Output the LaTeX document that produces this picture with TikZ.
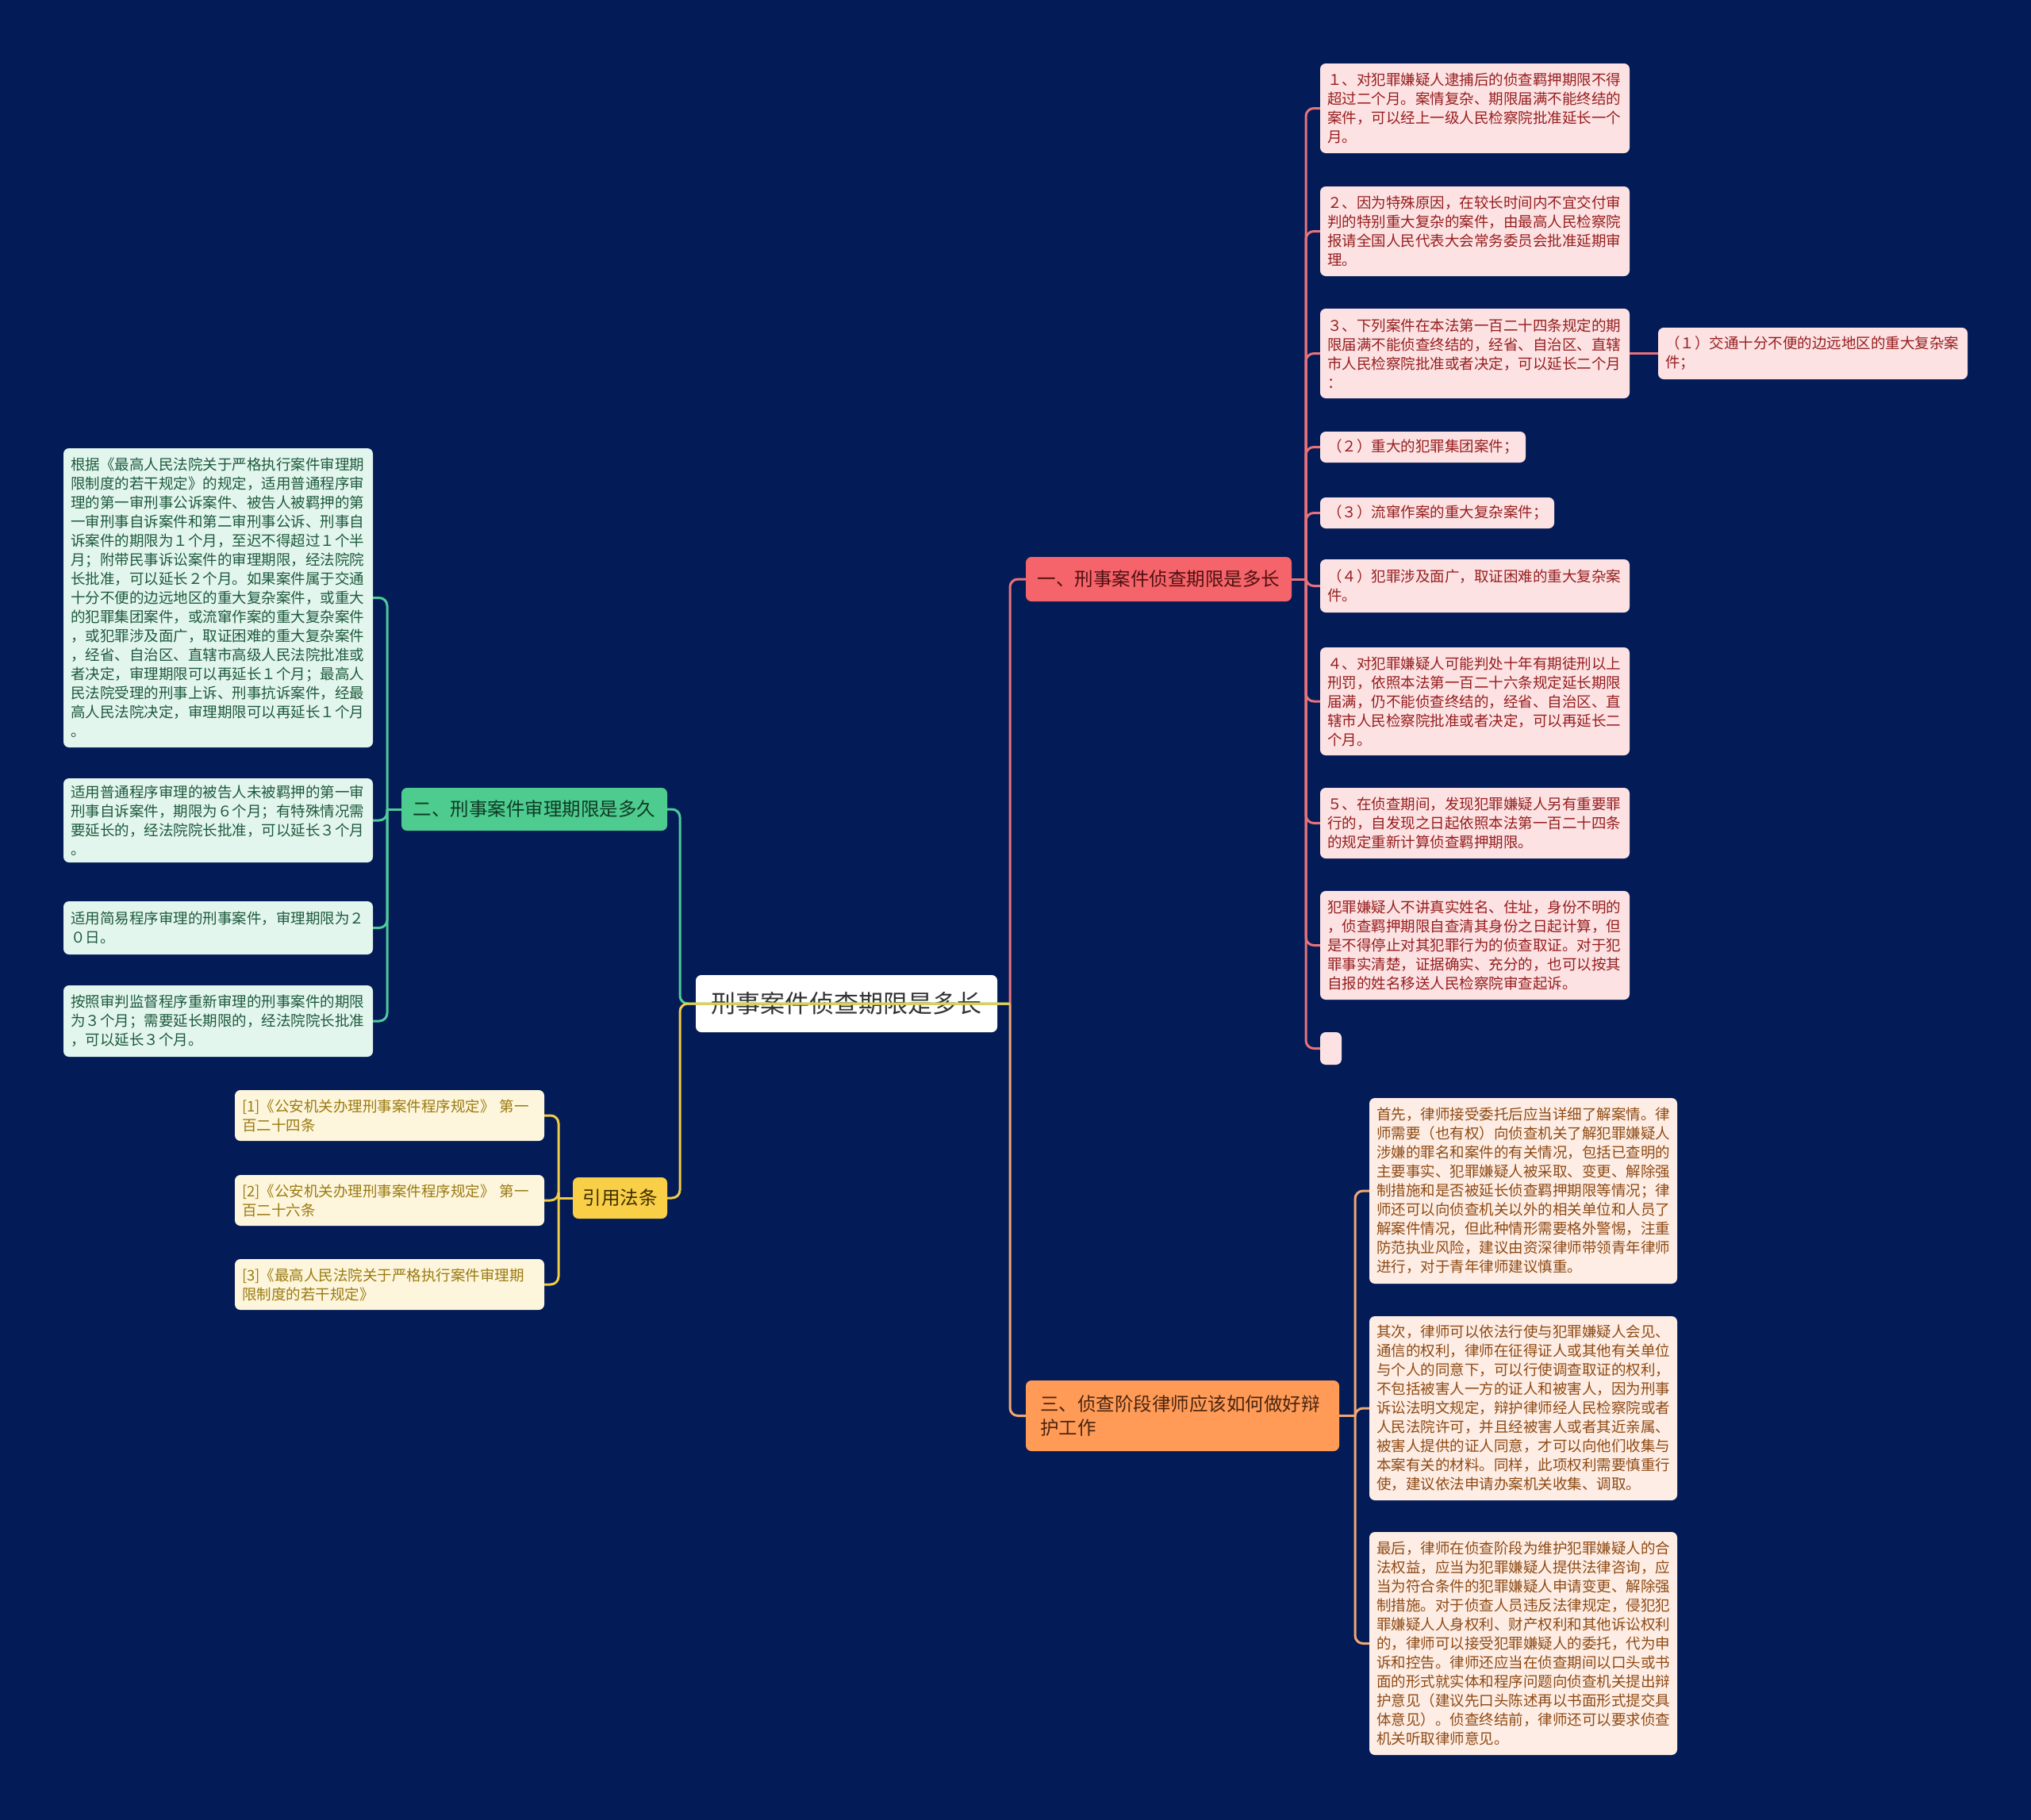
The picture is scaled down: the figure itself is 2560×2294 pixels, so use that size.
\documentclass[tikz,border=0pt]{standalone}
\usepackage{fontspec}
\setmainfont{Noto Sans CJK SC}
\definecolor{bgc}{RGB}{3,27,86}
\definecolor{pkfill}{RGB}{253,226,227}
\definecolor{pktext}{RGB}{150,30,30}
\definecolor{pkline}{RGB}{232,114,122}
\definecolor{gnfill}{RGB}{227,246,238}
\definecolor{gntext}{RGB}{29,90,60}
\definecolor{gnline}{RGB}{79,203,154}
\definecolor{ylfill}{RGB}{254,246,220}
\definecolor{yltext}{RGB}{154,122,16}
\definecolor{ylline}{RGB}{240,203,69}
\definecolor{orfill}{RGB}{254,237,228}
\definecolor{ortext}{RGB}{142,74,20}
\definecolor{orline}{RGB}{242,167,114}
\definecolor{n1fill}{RGB}{245,100,106}
\definecolor{n1text}{RGB}{80,16,16}
\definecolor{n2fill}{RGB}{78,203,143}
\definecolor{n2text}{RGB}{14,59,36}
\definecolor{n3fill}{RGB}{255,155,87}
\definecolor{n3text}{RGB}{74,36,16}
\definecolor{n4fill}{RGB}{249,207,71}
\definecolor{n4text}{RGB}{61,46,0}
\definecolor{ctext}{RGB}{51,51,51}
\tikzset{
  x=1pt,y=-1pt,
  basebox/.style={rounded corners=7pt, inner sep=0pt, align=left},
  leaf/.style={basebox, font=\fontsize{18.5}{24}\selectfont},
  pk/.style={leaf, fill=pkfill, text=pktext},
  gn/.style={leaf, fill=gnfill, text=gntext},
  yl/.style={leaf, fill=ylfill, text=yltext},
  orc/.style={leaf, fill=orfill, text=ortext},
  mainbr/.style={basebox, font=\fontsize{23.5}{30}\selectfont},
  conn/.style={line width=3pt, rounded corners=10pt},
}
\begin{document}
\begin{tikzpicture}
\fill[bgc] (0,0) rectangle (2560,2294);
\useasboundingbox (0,0) rectangle (2560,2294);

% central node
\node[basebox, fill=white, text=ctext, font=\fontsize{31}{36}\selectfont, minimum width=380pt, minimum height=72pt, align=center] (c) at (1067,1265) {刑事案件侦查期限是多长};

% main branches
\node[mainbr, fill=n1fill, text=n1text, minimum width=335pt, minimum height=56pt, align=center] (n1) at (1460.5,730) {一、刑事案件侦查期限是多长};
\node[mainbr, fill=n2fill, text=n2text, minimum width=335pt, minimum height=54pt, align=center] (n2) at (673.5,1020) {二、刑事案件审理期限是多久};
\node[mainbr, fill=n3fill, text=n3text, minimum width=395pt, minimum height=89pt, text width=359pt] (n3) at (1490.5,1784.5) {三、侦查阶段律师应该如何做好辩\\护工作};
\node[mainbr, fill=n4fill, text=n4text, minimum width=119pt, minimum height=52pt, align=center] (n4) at (781.5,1510) {引用法条};

% pink leaves
\node[pk, minimum width=390pt, minimum height=113pt, text width=372pt] (p1) at (1859,136.5) {１、对犯罪嫌疑人逮捕后的侦查羁押期限不得\\超过二个月。案情复杂、期限届满不能终结的\\案件，可以经上一级人民检察院批准延长一个\\月。};
\node[pk, minimum width=390pt, minimum height=113pt, text width=372pt] (p2) at (1859,291.5) {２、因为特殊原因，在较长时间内不宜交付审\\判的特别重大复杂的案件，由最高人民检察院\\报请全国人民代表大会常务委员会批准延期审\\理。};
\node[pk, minimum width=390pt, minimum height=113pt, text width=372pt] (p3) at (1859,445.5) {３、下列案件在本法第一百二十四条规定的期\\限届满不能侦查终结的，经省、自治区、直辖\\市人民检察院批准或者决定，可以延长二个月\\：};
\node[pk, minimum width=390pt, minimum height=65pt, text width=372pt] (p3a) at (2285,445.5) {（１）交通十分不便的边远地区的重大复杂案\\件；};
\node[pk, minimum width=259pt, minimum height=39pt, text width=241pt] (q2) at (1793.5,563.5) {（２）重大的犯罪集团案件；};
\node[pk, minimum width=295pt, minimum height=39pt, text width=277pt] (q3) at (1811.5,646.5) {（３）流窜作案的重大复杂案件；};
\node[pk, minimum width=390pt, minimum height=67pt, text width=372pt] (q4) at (1859,738.5) {（４）犯罪涉及面广，取证困难的重大复杂案\\件。};
\node[pk, minimum width=390pt, minimum height=136pt, text width=372pt] (p4) at (1859,884) {４、对犯罪嫌疑人可能判处十年有期徒刑以上\\刑罚，依照本法第一百二十六条规定延长期限\\届满，仍不能侦查终结的，经省、自治区、直\\辖市人民检察院批准或者决定，可以再延长二\\个月。};
\node[pk, minimum width=390pt, minimum height=89pt, text width=372pt] (p5) at (1859,1037.5) {５、在侦查期间，发现犯罪嫌疑人另有重要罪\\行的，自发现之日起依照本法第一百二十四条\\的规定重新计算侦查羁押期限。};
\node[pk, minimum width=390pt, minimum height=137pt, text width=372pt] (p6) at (1859,1191.5) {犯罪嫌疑人不讲真实姓名、住址，身份不明的\\，侦查羁押期限自查清其身份之日起计算，但\\是不得停止对其犯罪行为的侦查取证。对于犯\\罪事实清楚，证据确实、充分的，也可以按其\\自报的姓名移送人民检察院审查起诉。};
\node[pk, minimum width=27pt, minimum height=41pt] (pe) at (1677.5,1321.5) {};

% green leaves
\node[gn, minimum width=390pt, minimum height=377pt, text width=372pt] (gA) at (275,753.5) {根据《最高人民法院关于严格执行案件审理期\\限制度的若干规定》的规定，适用普通程序审\\理的第一审刑事公诉案件、被告人被羁押的第\\一审刑事自诉案件和第二审刑事公诉、刑事自\\诉案件的期限为１个月，至迟不得超过１个半\\月；附带民事诉讼案件的审理期限，经法院院\\长批准，可以延长２个月。如果案件属于交通\\十分不便的边远地区的重大复杂案件，或重大\\的犯罪集团案件，或流窜作案的重大复杂案件\\，或犯罪涉及面广，取证困难的重大复杂案件\\，经省、自治区、直辖市高级人民法院批准或\\者决定，审理期限可以再延长１个月；最高人\\民法院受理的刑事上诉、刑事抗诉案件，经最\\高人民法院决定，审理期限可以再延长１个月\\。};
\node[gn, minimum width=390pt, minimum height=106pt, text width=372pt] (gB) at (275,1034) {适用普通程序审理的被告人未被羁押的第一审\\刑事自诉案件，期限为６个月；有特殊情况需\\要延长的，经法院院长批准，可以延长３个月\\。};
\node[gn, minimum width=390pt, minimum height=67pt, text width=372pt] (gC) at (275,1169.5) {适用简易程序审理的刑事案件，审理期限为２\\０日。};
\node[gn, minimum width=390pt, minimum height=90pt, text width=372pt] (gD) at (275,1287) {按照审判监督程序重新审理的刑事案件的期限\\为３个月；需要延长期限的，经法院院长批准\\，可以延长３个月。};

% yellow leaves
\node[yl, minimum width=390pt, minimum height=64pt, text width=372pt] (y1) at (491,1406) {[1]《公安机关办理刑事案件程序规定》 第一\\百二十四条};
\node[yl, minimum width=390pt, minimum height=64pt, text width=372pt] (y2) at (491,1513) {[2]《公安机关办理刑事案件程序规定》 第一\\百二十六条};
\node[yl, minimum width=390pt, minimum height=64pt, text width=372pt] (y3) at (491,1619) {[3]《最高人民法院关于严格执行案件审理期\\限制度的若干规定》};

% orange leaves
\node[orc, minimum width=388pt, minimum height=234pt, text width=370pt] (o1) at (1920,1501) {首先，律师接受委托后应当详细了解案情。律\\师需要（也有权）向侦查机关了解犯罪嫌疑人\\涉嫌的罪名和案件的有关情况，包括已查明的\\主要事实、犯罪嫌疑人被采取、变更、解除强\\制措施和是否被延长侦查羁押期限等情况；律\\师还可以向侦查机关以外的相关单位和人员了\\解案件情况，但此种情形需要格外警惕，注重\\防范执业风险，建议由资深律师带领青年律师\\进行，对于青年律师建议慎重。};
\node[orc, minimum width=388pt, minimum height=232pt, text width=370pt] (o2) at (1920,1775) {其次，律师可以依法行使与犯罪嫌疑人会见、\\通信的权利，律师在征得证人或其他有关单位\\与个人的同意下，可以行使调查取证的权利，\\不包括被害人一方的证人和被害人，因为刑事\\诉讼法明文规定，辩护律师经人民检察院或者\\人民法院许可，并且经被害人或者其近亲属、\\被害人提供的证人同意，才可以向他们收集与\\本案有关的材料。同样，此项权利需要慎重行\\使，建议依法申请办案机关收集、调取。};
\node[orc, minimum width=388pt, minimum height=281pt, text width=370pt] (o3) at (1920,2071.5) {最后，律师在侦查阶段为维护犯罪嫌疑人的合\\法权益，应当为犯罪嫌疑人提供法律咨询，应\\当为符合条件的犯罪嫌疑人申请变更、解除强\\制措施。对于侦查人员违反法律规定，侵犯犯\\罪嫌疑人人身权利、财产权利和其他诉讼权利\\的，律师可以接受犯罪嫌疑人的委托，代为申\\诉和控告。律师还应当在侦查期间以口头或书\\面的形式就实体和程序问题向侦查机关提出辩\\护意见（建议先口头陈述再以书面形式提交具\\体意见）。侦查终结前，律师还可以要求侦查\\机关听取律师意见。};

% junction coordinates
\coordinate (T) at (1273,1265);
\coordinate (L) at (857,1265);
\coordinate (t1) at (1646,730);
\coordinate (t2) at (488,1020);
\coordinate (t3) at (1708,1784.5);
\coordinate (t4) at (704,1510);

% central connectors
\draw[conn, pkline] (c.east) -- (T);
\draw[conn, pkline] (T) |- (n1.west);
\draw[conn, orline] (T) |- (n3.west);
\draw[conn, gnline] (T) -- (L) |- (n2.east);
\draw[conn, ylline] (T) -- (L) |- (n4.east);

% branch 1
\draw[conn, pkline] (n1.east) -- (t1);
\foreach \k in {p1,p2,p3,q2,q3,q4,p4,p5,p6,pe}{\draw[conn, pkline] (t1) |- (\k.west);}
\draw[conn, pkline] (p3.east) -- (p3a.west);

% branch 2
\draw[conn, gnline] (n2.west) -- (t2);
\foreach \k in {gA,gB,gC,gD}{\draw[conn, gnline] (t2) |- (\k.east);}

% branch 3
\draw[conn, orline] (n3.east) -- (t3);
\foreach \k in {o1,o2,o3}{\draw[conn, orline] (t3) |- (\k.west);}

% citations
\draw[conn, ylline] (n4.west) -- (t4);
\foreach \k in {y1,y2,y3}{\draw[conn, ylline] (t4) |- (\k.east);}
\end{tikzpicture}
\end{document}
